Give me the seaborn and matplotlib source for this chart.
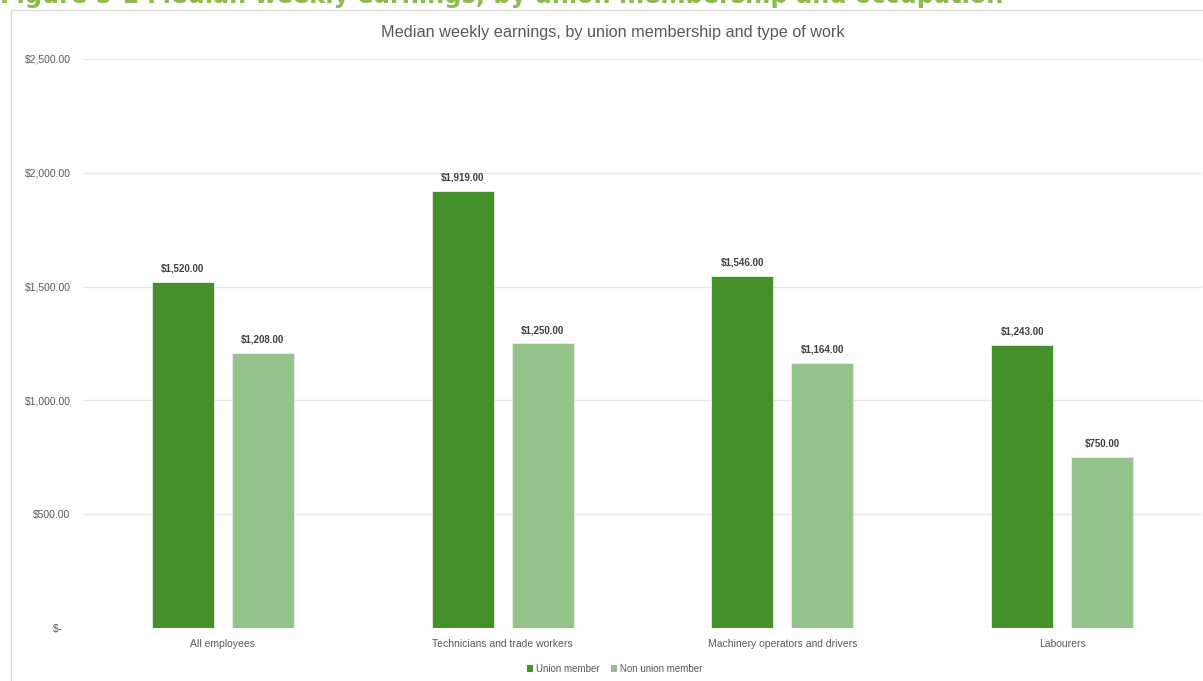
import matplotlib
matplotlib.use("Agg")
import matplotlib.pyplot as plt
import matplotlib.patches as mpatches
import seaborn as sns
import pandas as pd

categories = ["All employees", "Technicians and trade workers",
              "Machinery operators and drivers", "Labourers"]
union_member = [1520, 1919, 1546, 1243]
non_union_member = [1208, 1250, 1164, 750]
series_names = ["Union member", "Non union member"]
y_ticks = [0, 500, 1000, 1500, 2000, 2500]

df = pd.DataFrame({
    "Occupation": categories * 2,
    "Earnings": union_member + non_union_member,
    "Membership": [series_names[0]] * 4 + [series_names[1]] * 4,
})

sns.set_theme(style="white")
plt.rcParams["font.family"] = ["Liberation Sans", "DejaVu Sans"]

colors = ["#46902B", "#93C28A"]
W, H = 1203, 681
fig = plt.figure(figsize=(W / 100, H / 100), dpi=100)

# chart frame
frame = mpatches.Rectangle((11 / W, -0.01), 1.0, 1 - 10 / H + 0.01, transform=fig.transFigure,
                           fill=False, edgecolor="#D9D9D9", linewidth=1.0)
fig.patches.append(frame)

ax = fig.add_axes([83 / W, 1 - 628 / H, (1202 - 83) / W, (628 - 59) / H])
sns.barplot(data=df, x="Occupation", y="Earnings", hue="Membership",
            palette=colors, saturation=1, width=0.572, gap=0.224, ax=ax,
            edgecolor="#E8F2E4", linewidth=0.6, legend=False, errorbar=None)

ax.set_ylim(0, 2500)
ax.set_xlim(-0.5, 3.5)
ax.set_yticks(y_ticks)
ax.set_yticklabels(["$-   "] + [f"${v:,.2f}" for v in y_ticks[1:]])
ax.yaxis.grid(True, color="#E6E6E6", linewidth=1.0)
ax.set_axisbelow(True)
for s in ax.spines.values():
    s.set_visible(False)
ax.tick_params(axis="y", length=0, pad=9, labelsize=7.5, labelcolor="#595959")
ax.tick_params(axis="x", length=0, pad=8, labelsize=7.5, labelcolor="#595959")
ax.set_xlabel("")
ax.set_ylabel("")

for cont in ax.containers:
    ax.bar_label(cont, labels=[f"${v:,.2f}" for v in cont.datavalues], padding=6,
                 fontsize=7, fontweight="bold", color="#404040")

fig.text(613 / W, 1 - 32 / H, "Median weekly earnings, by union membership and type of work",
         ha="center", va="center", fontsize=11.7, color="#595959")

# legend
handles = [mpatches.Patch(facecolor=c, edgecolor="none", label=n) for c, n in zip(colors, series_names)]
fig.legend(handles=handles, loc="center", bbox_to_anchor=(615 / W, 1 - 669 / H), ncol=2,
           frameon=False, fontsize=7, handlelength=0.6, handleheight=0.6, handletextpad=0.3,
           columnspacing=1.2, labelcolor="#595959")

fig.text(0.0, 1 - 3 / H, "Figure 5-1 Median weekly earnings, by union membership and occupation",
         ha="left", va="baseline", fontsize=17.3, fontweight="bold", color="#8CBB4E",
         family=["DejaVu Sans"])

fig.savefig("out.png", dpi=100)
